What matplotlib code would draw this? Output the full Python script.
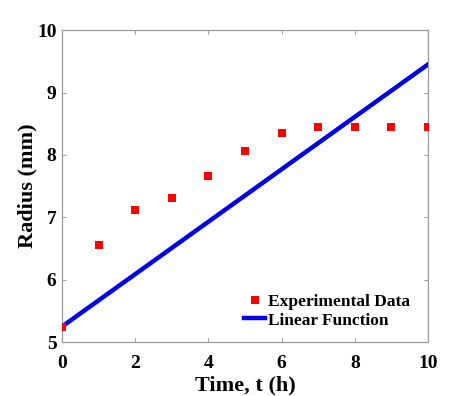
import numpy as np
import matplotlib
matplotlib.use("Agg")
import matplotlib.pyplot as plt

# dati
tempo = [0, 1, 2, 3, 4, 5, 6, 7, 8, 9, 10]
raggio_sperimentale = [5.25, 6.55, 7.12, 7.31, 7.66, 8.07, 8.35, 8.44, 8.44, 8.44, 8.44]
tempo_lineare = [0, 10]
raggio_lineare = [5.25, 9.45]

x_ticks = [0, 2, 4, 6, 8, 10]
y_ticks = [5, 6, 7, 8, 9, 10]

plt.rcParams['font.family'] = ['Liberation Serif', 'DejaVu Serif']
plt.rcParams['font.weight'] = 'bold'

fig = plt.figure(figsize=(4.74, 3.96), dpi=100)
ax = fig.add_axes([0.131, 0.136, 0.772, 0.788])

ax.plot(tempo, raggio_sperimentale, linestyle="none", marker="s", markersize=5.5,
        color="#ff0000", markeredgewidth=0, label="Experimental Data", zorder=3)
ax.plot(tempo_lineare, raggio_lineare, color="#0000e6", linewidth=3.2,
        label="Linear Function", zorder=2)

ax.set_xlim(0, 10)
ax.set_ylim(5, 10)
ax.set_xticks(x_ticks)
ax.set_yticks(y_ticks)

for s in ax.spines.values():
    s.set_color("#9a9a9a")
    s.set_linewidth(0.9)

ax.tick_params(direction="in", length=3, width=0.7, color="#9a9a9a",
               top=True, right=True, labelsize=14)
ax.tick_params(axis="x", pad=9)
ax.tick_params(axis="y", pad=4)

ax.set_xlabel("Time, t (h)", fontsize=16, fontweight="bold", labelpad=3)
ax.set_ylabel("Radius (mm)", fontsize=16, fontweight="bold", labelpad=0)

# legenda senza cornice in basso a destra
leg = ax.legend(loc="lower right", bbox_to_anchor=(0.964, 0.027), frameon=False,
                fontsize=12.5, handlelength=1.2, handletextpad=0.15,
                borderaxespad=0, labelspacing=0.15, borderpad=0.3)

fig.savefig("out.png", dpi=100)
